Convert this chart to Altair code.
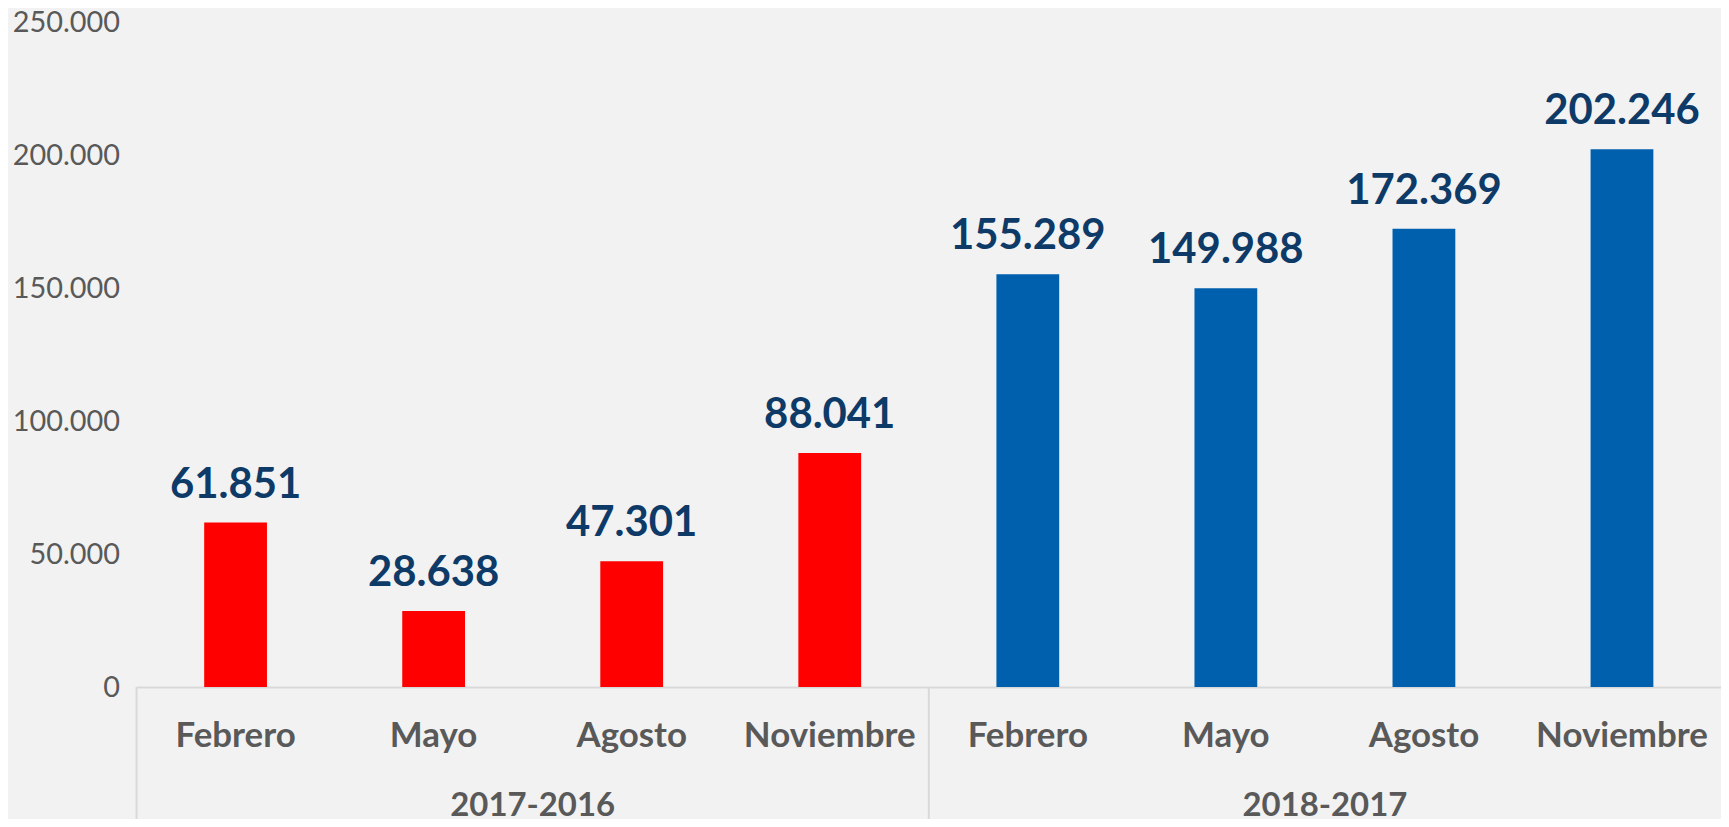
import altair as alt
import pandas as pd

groups = ["2017-2016"] * 4 + ["2018-2017"] * 4
months = ["Febrero", "Mayo", "Agosto", "Noviembre"] * 2
values = [61851, 28638, 47301, 88041, 155289, 149988, 172369, 202246]
group_names = ["2017-2016", "2018-2017"]
group_colors = ["#FF0000", "#0060AD"]
y_ticks = [0, 50000, 100000, 150000, 200000, 250000]

df = pd.DataFrame({"grupo": groups, "mes": months, "valor": values})
df["key"] = df["grupo"] + "|" + df["mes"]
order = list(df["key"])

# separators: start of each group
sep_df = pd.DataFrame({"key": [order[0], order[4]]})
# group label anchored at boundary between 2nd and 3rd category of each group
glab_df = pd.DataFrame({"key": [order[2], order[6]], "grupo": group_names})

PLOT_H = 667
FONT = "Lato"
GRAY = "#595959"

x_enc = alt.X(
    "key:N",
    sort=order,
    scale=alt.Scale(domain=order, paddingInner=0, paddingOuter=0),
    axis=alt.Axis(
        title=None,
        labelExpr="split(datum.value, '|')[1]",
        labelAngle=0,
        labelAlign="center",
        labelFont=FONT,
        labelFontSize=35,
        labelFontWeight="bold",
        labelColor=GRAY,
        labelBaseline="alphabetic",
        labelPadding=60,
        labelOverlap=False,
        ticks=False,
        tickSize=0,
        domainColor="#D9D9D9",
        domainWidth=2,
        grid=False,
    ),
)

y_enc = alt.Y(
    "valor:Q",
    scale=alt.Scale(domain=[0, 250000], nice=False),
    axis=alt.Axis(
        title=None,
        values=y_ticks,
        labelExpr="replace(format(datum.value, ','), ',', '.')",
        labelFont=FONT,
        labelFontSize=29,
        labelColor=GRAY,
        labelPadding=17,
        ticks=False,
        tickSize=0,
        domain=False,
        grid=False,
    ),
)

bars = alt.Chart(df).mark_bar(width=63).encode(
    x=x_enc,
    y=y_enc,
    color=alt.Color(
        "grupo:N",
        scale=alt.Scale(domain=group_names, range=group_colors),
        legend=None,
    ),
)

labels = (
    alt.Chart(df)
    .transform_calculate(label="replace(format(datum.valor, ','), ',', '.')")
    .mark_text(
        font=FONT,
        fontSize=42,
        fontWeight="bold",
        color="#0E3A68",
        baseline="alphabetic",
        align="center",
        dy=-25,
    )
    .encode(x=alt.X("key:N", sort=order), y="valor:Q", text="label:N")
)

seps = (
    alt.Chart(sep_df)
    .mark_rule(color="#D9D9D9", strokeWidth=2)
    .encode(
        x=alt.X("key:N", sort=order, bandPosition=0),
        y=alt.value(PLOT_H),
        y2=alt.value(PLOT_H + 140),
    )
)

glabels = (
    alt.Chart(glab_df)
    .mark_text(
        font=FONT,
        fontSize=33,
        fontWeight="bold",
        color=GRAY,
        baseline="alphabetic",
        align="center",
    )
    .encode(
        x=alt.X("key:N", sort=order, bandPosition=0),
        y=alt.value(PLOT_H + 129),
        text="grupo:N",
    )
)

chart = (
    alt.layer(seps, bars, labels, glabels)
    .properties(
        width=1590,
        height=PLOT_H,
        autosize=alt.AutoSizeParams(type="none"),
        padding={"left": 129, "top": 13, "right": 0, "bottom": 131},
        background="#F2F2F2",
    )
    .configure_view(stroke=None)
)

chart.save("out.html", embed_options={"renderer": "svg", "actions": False})
